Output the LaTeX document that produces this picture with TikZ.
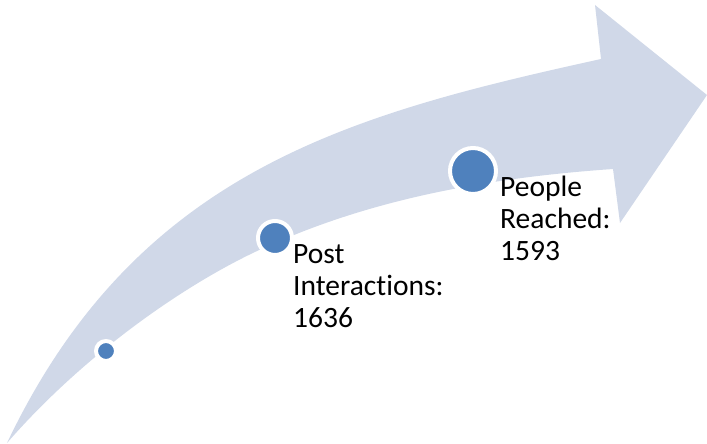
\documentclass[tikz,border=0pt]{standalone}
\usepackage{fontspec}
\setmainfont{Carlito}[Ligatures={NoCommon, NoRare, NoContextual}]
\usepackage{tikz}
\definecolor{bandblue}{HTML}{D0D8E8}
\definecolor{dotblue}{HTML}{4F81BD}
\tikzset{
  dot/.style={circle, fill=dotblue, draw=white, line width=4pt, inner sep=0pt},
  lbl/.style={anchor=base west, align=left, inner sep=0pt, font=\fontsize{29.5}{32}\selectfont}
}

\begin{document}
\begin{tikzpicture}[x=1pt, y=-1pt]
			%%%%% START %%%%%
			\useasboundingbox (0, 0) rectangle (707, 444);
			
			% band with arrow head
			\fill[bandblue] (7, 443) .. controls (137, 170) and (351, 114) .. (601, 59)
				-- (595, 5) -- (707, 95) -- (620, 223) -- (613, 169)
				.. controls (503, 176.7) and (385, 194.8) .. (275, 243)
				.. controls (195, 276.6) and (87, 351) .. (7, 443) -- cycle;
			
			\node[dot, minimum size=20pt] (dotstart) at (106, 351) {};
			\node[dot, minimum size=34pt] (dotpost) at (275, 238) {};
			\node[dot, minimum size=46pt] (dotpeople) at (473, 171) {};
			
			\node[lbl] (lblpost) at (293, 327) {Post\\Interactions:\\1636};
			\node[lbl] (lblpeople) at (500, 260) {People\\Reached:\\1593};
			%%%%% END %%%%%
		\end{tikzpicture}
\end{document}
